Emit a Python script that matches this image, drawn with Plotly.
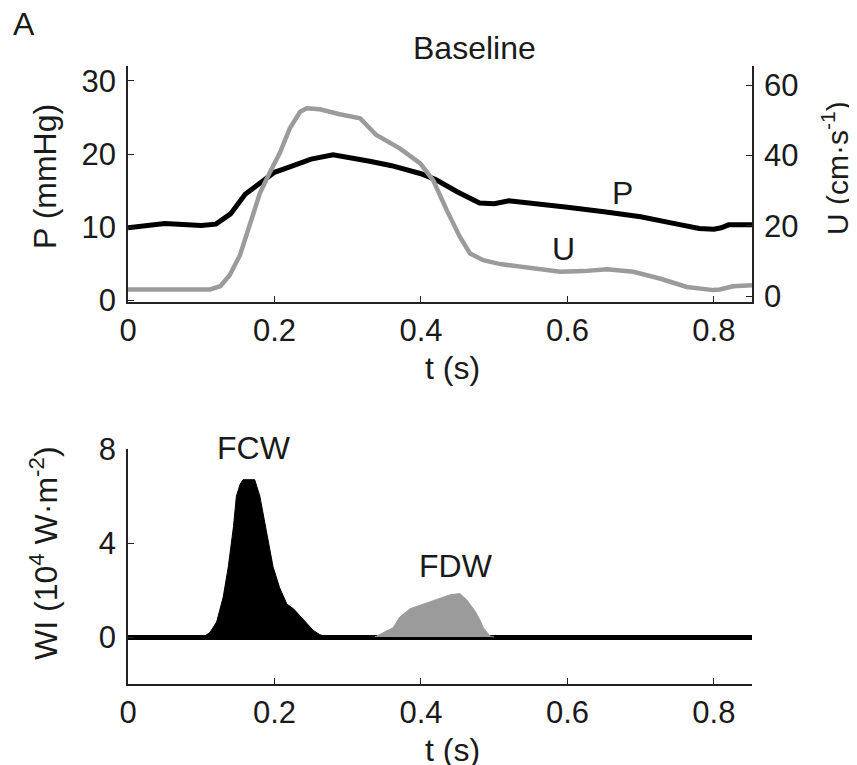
import plotly.graph_objects as go

# ---- data ----
p_t = [0.0, 0.05, 0.10, 0.12, 0.14, 0.16, 0.18, 0.20, 0.22, 0.25, 0.28, 0.30, 0.33, 0.36,
       0.40, 0.42, 0.45, 0.48, 0.50, 0.52, 0.55, 0.60, 0.65, 0.70, 0.75, 0.78, 0.80, 0.81, 0.82, 0.852]
p_mmhg = [9.9, 10.5, 10.2, 10.4, 11.8, 14.5, 16.0, 17.5, 18.2, 19.3, 19.9, 19.6, 19.0, 18.4,
          17.3, 16.5, 14.8, 13.3, 13.2, 13.6, 13.3, 12.7, 12.1, 11.4, 10.4, 9.8, 9.7, 9.9, 10.3, 10.3]

u_t = [0.0, 0.112, 0.126, 0.139, 0.153, 0.167, 0.180, 0.194, 0.208, 0.221, 0.235, 0.244, 0.262,
       0.289, 0.317, 0.339, 0.371, 0.399, 0.417, 0.435, 0.453, 0.467, 0.485, 0.508, 0.553, 0.590,
       0.622, 0.654, 0.690, 0.726, 0.763, 0.799, 0.808, 0.826, 0.852]
u_cms = [1.9, 1.9, 2.8, 6.0, 11.7, 20.7, 29.2, 35.3, 41.0, 47.7, 52.4, 53.4, 53.1,
         51.7, 50.5, 45.8, 42.0, 37.7, 32.8, 24.5, 16.9, 12.1, 10.2, 9.1, 7.9, 6.9,
         7.1, 7.6, 6.9, 5.0, 2.6, 1.7, 1.9, 2.8, 3.1]

fcw_t = [0.103, 0.112, 0.121, 0.130, 0.137, 0.144, 0.148, 0.153, 0.157, 0.173, 0.180, 0.189,
         0.198, 0.207, 0.217, 0.226, 0.235, 0.244, 0.253, 0.262, 0.271]
fcw_wi = [0.0, 0.2, 0.64, 1.7, 3.0, 4.7, 6.0, 6.5, 6.7, 6.7, 6.0, 4.5,
          3.0, 2.1, 1.4, 1.2, 0.9, 0.57, 0.28, 0.1, 0.0]

fdw_t = [0.337, 0.349, 0.362, 0.371, 0.385, 0.403, 0.421, 0.440, 0.453, 0.462, 0.474, 0.481,
         0.485, 0.494, 0.500]
fdw_wi = [0.0, 0.2, 0.4, 0.85, 1.2, 1.4, 1.6, 1.8, 1.85, 1.6, 1.1, 0.7, 0.4, 0.05, 0.0]

t_ticks = [0, 0.2, 0.4, 0.6, 0.8]
t_ticklabels = ["0", "0.2", "0.4", "0.6", "0.8"]
p_ticks = [0, 10, 20, 30]
u_ticks = [0, 20, 40, 60]
wi_ticks = [0, 4, 8]

# ---- styling ----
FONT = "Liberation Sans, Arial, sans-serif"
TXT = "#1a1a1a"
GRAY = "#9b9b9b"
FS_TICK = 31
FS = 32

fig = go.Figure()

fig.add_trace(go.Scatter(x=u_t, y=u_cms, mode="lines", line=dict(color=GRAY, width=4.5),
                         xaxis="x", yaxis="y2", showlegend=False, name="U"))
fig.add_trace(go.Scatter(x=p_t, y=p_mmhg, mode="lines", line=dict(color="black", width=5),
                         xaxis="x", yaxis="y", showlegend=False, name="P"))

fig.add_trace(go.Scatter(x=fcw_t, y=fcw_wi, mode="lines", fill="tozeroy", fillcolor="black",
                         line=dict(color="black", width=1), xaxis="x2", yaxis="y3",
                         showlegend=False, name="FCW"))
fig.add_trace(go.Scatter(x=fdw_t, y=fdw_wi, mode="lines", fill="tozeroy", fillcolor=GRAY,
                         line=dict(color=GRAY, width=1), xaxis="x2", yaxis="y3",
                         showlegend=False, name="FDW"))

axis_common = dict(showgrid=False, zeroline=False, showline=True, linecolor="#222222",
                   linewidth=1.6, ticks="inside", ticklen=6, tickcolor="#222222",
                   tickfont=dict(family=FONT, size=FS_TICK, color=TXT))

top_dom = [0.618, 1.0]
bot_dom = [0.0, 0.380]
xr = [0, 0.852]

# the page body has an 8px margin: the figure starts at page (8, 8)
fig.update_layout(
    width=849, height=757,
    margin=dict(l=120, r=105, t=58, b=81),
    paper_bgcolor="white", plot_bgcolor="white",
    font=dict(family=FONT, size=FS, color=TXT),
    xaxis=dict(axis_common, domain=[0, 1], range=xr, anchor="y",
               tickvals=t_ticks, ticktext=t_ticklabels, ticklabelstandoff=0),
    yaxis=dict(axis_common, domain=top_dom, range=[-0.27, 32.05], anchor="x",
               tickvals=p_ticks, ticklabelstandoff=4),
    yaxis2=dict(axis_common, overlaying="y", side="right", range=[-1.7, 65.4],
                anchor="x", tickvals=u_ticks, ticklabelstandoff=4),
    xaxis2=dict(axis_common, domain=[0, 1], range=xr, anchor="y3",
                tickvals=t_ticks, ticktext=t_ticklabels, ticklabelstandoff=0),
    yaxis3=dict(axis_common, domain=bot_dom, range=[-2, 8], anchor="x2",
                tickvals=wi_ticks, ticklabelstandoff=4,
                zeroline=True, zerolinecolor="black", zerolinewidth=5),
)

# page pixel -> paper coords (plot area spans x 128..752, y 66..684 on the page)
def pap(px, py):
    return (px - 128) / 624.0, (684 - py) / 618.0

anns = []
def add_text(text, px, py, angle=0, size=FS):
    x, y = pap(px, py)
    anns.append(dict(text=text, x=x, y=y, xref="paper", yref="paper", showarrow=False,
                     xanchor="center", yanchor="middle", textangle=angle,
                     font=dict(family=FONT, size=size, color=TXT)))

add_text("A", 24, 24)
add_text("Baseline", 474, 48)
add_text("t (s)", 452, 368)
add_text("t (s)", 452, 750)
add_text("P (mmHg)", 45, 177, angle=-90)
add_text("U (cm·s<sup>-1</sup>)", 835, 168, angle=-90, size=30)
add_text("WI (10<sup>4</sup> W·m<sup>-2</sup>)", 44, 553, angle=-90)
add_text("P", 622, 193)
add_text("U", 563, 249)
add_text("FCW", 254, 448)
add_text("FDW", 456, 566)

fig.update_layout(annotations=anns)

fig.write_html("out.html")
